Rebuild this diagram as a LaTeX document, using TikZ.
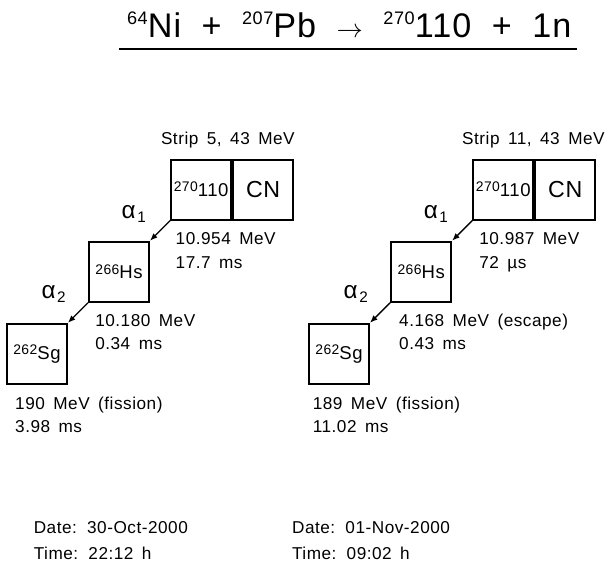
\documentclass[tikz,border=0pt]{standalone}
\usepackage{fontspec}
\setmainfont{Liberation Sans}[WordSpace=1.6, LetterSpace=3]
\newfontfamily\titlefont{Liberation Sans}[WordSpace=1.95, LetterSpace=3]
\usetikzlibrary{positioning,arrows.meta}

\newcommand{\isobox}[2]{\raisebox{4.7pt}{\fontsize{13.2pt}{13.2pt}\selectfont #1}#2}
\newcommand{\isotitle}[2]{\raisebox{12pt}{\fontsize{17.2pt}{17.2pt}\selectfont #1}#2}
\newcommand{\alphadecay}[1]{{\fontsize{23pt}{23pt}\selectfont α}\kern1.5pt\raisebox{-3.8pt}{\fontsize{14.5pt}{14.5pt}\selectfont #1}}

\begin{document}
\begin{tikzpicture}[
    nucbox/.style={draw, line width=1.9pt, minimum width=2cm, minimum height=2cm,
      inner sep=0pt, font=\fontsize{17.6pt}{17.6pt}\selectfont},
    decay/.style={line width=1.2pt, -{Latex[length=2.5mm,width=2mm]}},
    info/.style={anchor=north west, inner sep=0pt, align=left,
      font=\fontsize{16.3pt}{21.9pt}\selectfont},
    stamp/.style={anchor=north west, inner sep=0pt, align=left,
      font=\fontsize{16.3pt}{24.6pt}\selectfont},
    strip/.style={anchor=base west, inner sep=0pt, font=\fontsize{16.3pt}{16.3pt}\selectfont},
    alab/.style={anchor=base west, inner sep=0pt}]
    \useasboundingbox (0,0) rectangle (20.4,-19.233);

    % reaction
    \node[anchor=base, inner sep=0pt, font=\titlefont\fontsize{32.4pt}{32.4pt}\selectfont] (reaction) at (11.64,-1.243)
      {\isotitle{64}{Ni} + \isotitle{207}{Pb} $\rightarrow$ \isotitle{270}{110} + 1n};
    \draw[line width=2.2pt] (3.977,-1.643) -- (19.223,-1.643);

    % chain of 30-Oct-2000
    \node[strip] (Lstrip) at (5.36,-4.83) {Strip 5, 43 MeV};
    \node[nucbox] (Lz) at (6.705,-6.32) {\isobox{270}{110}};
    \node[nucbox, right=0pt of Lz, font=\fontsize{22pt}{22pt}\selectfont] (Lcn) {CN};
    \node[nucbox, below left=0.67cm and 0.67cm of Lz] (Lhs) {\isobox{266}{Hs}};
    \node[nucbox, below left=0.67cm and 0.67cm of Lhs] (Lsg) {\isobox{262}{Sg}};
    \draw[decay] (Lz.south west) -- (Lhs.north east);
    \draw[decay] (Lhs.south west) -- (Lsg.north east);
    \node[alab] (La1) at (4.05,-7.27) {\alphadecay{1}};
    \node[alab] (La2) at (1.38,-9.94) {\alphadecay{2}};
    \node[info] (Le1) at (5.85,-7.757) {10.954 MeV\\17.7 ms};
    \node[info] (Le2) at (3.17,-10.47) {10.180 MeV\\0.34 ms};
    \node[info] (Le3) at (0.50,-13.22) {190 MeV (fission)\\3.98 ms};
    \node[stamp] (Ldate) at (1.12,-17.37) {Date: 30-Oct-2000\\Time: 22:12 h};

    % chain of 01-Nov-2000
    \node[strip] (Rstrip) at (15.40,-4.83) {Strip 11, 43 MeV};
    \node[nucbox] (Rz) at (16.775,-6.32) {\isobox{270}{110}};
    \node[nucbox, right=0pt of Rz, font=\fontsize{22pt}{22pt}\selectfont] (Rcn) {CN};
    \node[nucbox, below left=0.67cm and 0.67cm of Rz] (Rhs) {\isobox{266}{Hs}};
    \node[nucbox, below left=0.67cm and 0.67cm of Rhs] (Rsg) {\isobox{262}{Sg}};
    \draw[decay] (Rz.south west) -- (Rhs.north east);
    \draw[decay] (Rhs.south west) -- (Rsg.north east);
    \node[alab] (Ra1) at (14.12,-7.27) {\alphadecay{1}};
    \node[alab] (Ra2) at (11.45,-9.94) {\alphadecay{2}};
    \node[info] (Re1) at (15.97,-7.757) {10.987 MeV\\72 µs};
    \node[info] (Re2) at (13.30,-10.47) {4.168 MeV (escape)\\0.43 ms};
    \node[info] (Re3) at (10.42,-13.22) {189 MeV (fission)\\11.02 ms};
    \node[stamp] (Rdate) at (9.73,-17.37) {Date: 01-Nov-2000\\Time: 09:02 h};
\end{tikzpicture}
\end{document}
